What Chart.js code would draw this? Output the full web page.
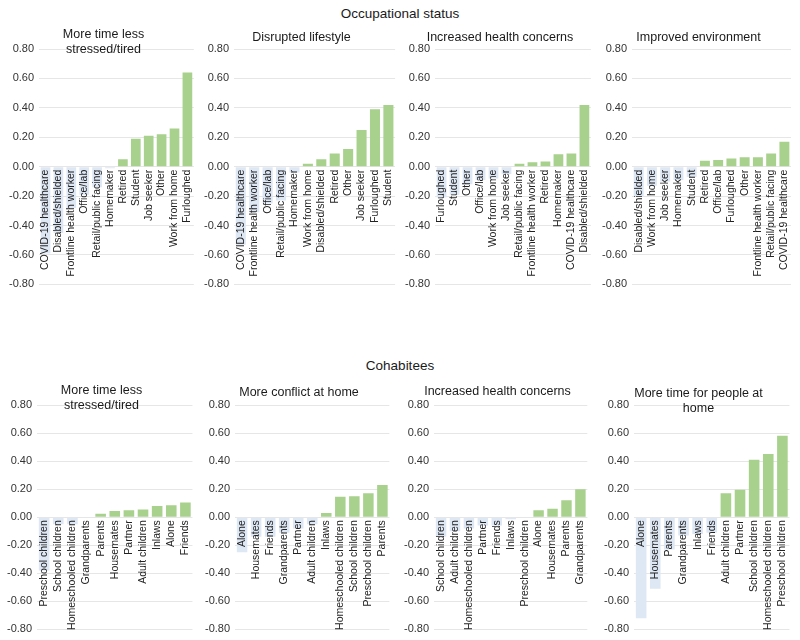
<!DOCTYPE html>
<html>
<head>
<meta charset="utf-8">
<script src="https://cdn.jsdelivr.net/npm/chart.js@4.4.1/dist/chart.umd.min.js"></script>
<style>
  body { margin: 0; background: #fff; font-family: "Liberation Sans", Arial, sans-serif; }
  #page { position: relative; width: 800px; height: 640px; overflow: hidden; }
  .section { position: absolute; left: 0; width: 800px; text-align: center; font-size: 13.5px; color: #1a1a1a; }
  canvas { position: absolute; }
</style>
</head>
<body>
<div id="page">
  <div class="section" style="top:6px">Occupational status</div>
  <div class="section" style="top:358px">Cohabitees</div>
  <canvas id="c1"></canvas>
  <canvas id="c2"></canvas>
  <canvas id="c3"></canvas>
  <canvas id="c4"></canvas>
  <canvas id="c5"></canvas>
  <canvas id="c6"></canvas>
  <canvas id="c7"></canvas>
  <canvas id="c8"></canvas>
</div>
<script>
// occupational status panels
const occStressLabels = ['COVID-19 healthcare', 'Disabled/shielded', 'Frontline health worker', 'Office/lab', 'Retail/public facing', 'Homemaker', 'Retired', 'Student', 'Job seeker', 'Other', 'Work from home', 'Furloughed'];
const occStressValues = [-0.59, -0.45, -0.28, -0.19, -0.14, -0.01, 0.05, 0.19, 0.21, 0.22, 0.26, 0.64];

const occDisruptLabels = ['COVID-19 healthcare', 'Frontline health worker', 'Office/lab', 'Retail/public facing', 'Homemaker', 'Work from home', 'Disabled/shielded', 'Retired', 'Other', 'Job seeker', 'Furloughed', 'Student'];
const occDisruptValues = [-0.53, -0.31, -0.25, -0.23, -0.04, 0.02, 0.05, 0.09, 0.12, 0.25, 0.39, 0.42];

const occHealthLabels = ['Furloughed', 'Student', 'Other', 'Office/lab', 'Work from home', 'Job seeker', 'Retail/public facing', 'Frontline health worker', 'Retired', 'Homemaker', 'COVID-19 healthcare', 'Disabled/shielded'];
const occHealthValues = [-0.21, -0.19, -0.12, -0.09, -0.08, -0.05, 0.02, 0.03, 0.035, 0.085, 0.09, 0.42];

const occEnvLabels = ['Disabled/shielded', 'Work from home', 'Job seeker', 'Homemaker', 'Student', 'Retired', 'Office/lab', 'Furloughed', 'Other', 'Frontline health worker', 'Retail/public facing', 'COVID-19 healthcare'];
const occEnvValues = [-0.20, -0.13, -0.10, -0.09, -0.07, 0.04, 0.045, 0.055, 0.065, 0.065, 0.09, 0.17];

// cohabitee panels
const cohStressLabels = ['Preschool children', 'School children', 'Homeschooled children', 'Grandparents', 'Parents', 'Housemates', 'Partner', 'Adult children', 'Inlaws', 'Alone', 'Friends'];
const cohStressValues = [-0.38, -0.05, -0.05, -0.005, 0.025, 0.045, 0.05, 0.055, 0.08, 0.085, 0.105];

const cohConflictLabels = ['Alone', 'Housemates', 'Friends', 'Grandparents', 'Partner', 'Adult children', 'Inlaws', 'Homeschooled children', 'School children', 'Preschool children', 'Parents'];
const cohConflictValues = [-0.25, -0.14, -0.14, -0.11, -0.08, -0.05, 0.03, 0.145, 0.15, 0.17, 0.23];

const cohHealthLabels = ['School children', 'Adult children', 'Homeschooled children', 'Partner', 'Friends', 'Inlaws', 'Preschool children', 'Alone', 'Housemates', 'Parents', 'Grandparents'];
const cohHealthValues = [-0.14, -0.10, -0.08, -0.06, -0.06, -0.015, -0.005, 0.05, 0.06, 0.12, 0.20];

const cohTimeLabels = ['Alone', 'Housemates', 'Parents', 'Grandparents', 'Inlaws', 'Friends', 'Adult children', 'Partner', 'School children', 'Homeschooled children', 'Preschool children'];
const cohTimeValues = [-0.72, -0.51, -0.23, -0.13, -0.12, -0.11, 0.17, 0.195, 0.41, 0.45, 0.58];

const yMin = -0.8;
const yMax = 0.8;
const yStep = 0.2;

const POS_COLOR = '#a9d18e';
const NEG_COLOR = '#dee7f4';
const FONT = '"Liberation Sans", Arial, sans-serif';

function makePanel(id, box, title, titlePad, labels, values) {
    const canvas = document.getElementById(id);
    canvas.width = box.w;
    canvas.height = box.h;
    canvas.style.left = box.x + 'px';
    canvas.style.top = box.y + 'px';

    new Chart(canvas.getContext('2d'), {
        type: 'bar',
        data: {
            labels: labels,
            datasets: [{
                data: values,
                backgroundColor: values.map(v => v < 0 ? NEG_COLOR : POS_COLOR),
                barPercentage: 0.75,
                categoryPercentage: 1.0
            }]
        },
        options: {
            responsive: false,
            animation: false,
            layout: { padding: 0 },
            plugins: {
                legend: { display: false },
                tooltip: { enabled: false },
                title: {
                    display: true,
                    text: title,
                    color: '#1a1a1a',
                    font: { family: FONT, size: 12.5, weight: 'normal', lineHeight: 1.2 },
                    padding: titlePad
                }
            },
            scales: {
                x: {
                    position: { y: 0 },
                    grid: { display: false, drawTicks: false },
                    border: { display: false },
                    ticks: {
                        z: 1, // category names are written over the bars
                        autoSkip: false,
                        minRotation: 90,
                        maxRotation: 90,
                        padding: 3,
                        color: '#222',
                        font: { family: FONT, size: 10.5 }
                    }
                },
                y: {
                    min: yMin,
                    max: yMax,
                    grid: { color: '#e6e6e6', drawTicks: false },
                    border: { display: false },
                    ticks: {
                        stepSize: yStep,
                        padding: 5,
                        color: '#333',
                        font: { family: FONT, size: 11 },
                        callback: v => v.toFixed(2)
                    }
                }
            }
        }
    });
}

// top row
makePanel('c1', { x: 4, y: 22, w: 199, h: 274 }, ['More time less', 'stressed/tired'], { top: 5.5, bottom: -8.5 }, occStressLabels, occStressValues);
makePanel('c2', { x: 199, y: 22, w: 205, h: 274 }, 'Disrupted lifestyle', { top: 8.5, bottom: 3.5 }, occDisruptLabels, occDisruptValues);
makePanel('c3', { x: 400, y: 22, w: 200, h: 274 }, 'Increased health concerns', { top: 8.5, bottom: 3.5 }, occHealthLabels, occHealthValues);
makePanel('c4', { x: 597, y: 22, w: 203, h: 274 }, 'Improved environment', { top: 8, bottom: 4 }, occEnvLabels, occEnvValues);

// bottom row
makePanel('c5', { x: 2, y: 376, w: 199, h: 265 }, ['More time less', 'stressed/tired'], { top: 7.5, bottom: -8.5 }, cohStressLabels, cohStressValues);
makePanel('c6', { x: 200, y: 376, w: 198, h: 265 }, 'More conflict at home', { top: 9, bottom: 5 }, cohConflictLabels, cohConflictValues);
makePanel('c7', { x: 399, y: 376, w: 197, h: 265 }, 'Increased health concerns', { top: 8, bottom: 6 }, cohHealthLabels, cohHealthValues);
makePanel('c8', { x: 599, y: 376, w: 199, h: 265 }, ['More time for people at', 'home'], { top: 10.5, bottom: -11.5 }, cohTimeLabels, cohTimeValues);
</script>
</body>
</html>
